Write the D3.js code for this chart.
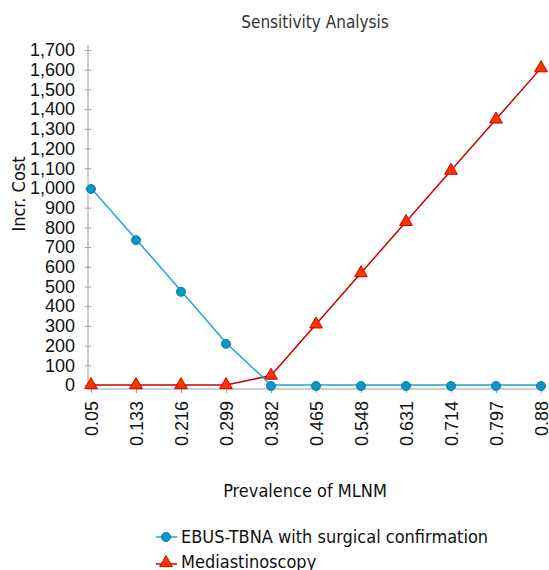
<!DOCTYPE html>
<html>
<head>
<meta charset="utf-8">
<script src="https://cdn.jsdelivr.net/npm/d3@7"></script>
<style>
  body { margin: 0; background: #fff; }
  svg { font-family: "DejaVu Sans Condensed", "DejaVu Sans", sans-serif; }
  .axis path, .axis line { stroke: #a0a0a0; }
  .axis text { fill: #111; font-size: 18px; }
</style>
</head>
<body>
<svg width="549" height="570"></svg>
<script>
const prevalence = ["0.05", "0.133", "0.216", "0.299", "0.382", "0.465", "0.548", "0.631", "0.714", "0.797", "0.88"];
const ebusCost = [1000, 740, 478, 214, 0, 0, 0, 0, 0, 0, 0];
const mediaCost = [0, 0, 0, 0, 48, 308, 568, 828, 1088, 1348, 1608];
const yTicks = d3.range(0, 1701, 100);

const svg = d3.select("svg");

const x = d3.scalePoint().domain(prevalence).range([91, 541]);
const y = d3.scaleLinear().domain([0, 1700]).range([385, 50]);

// title
svg.append("text")
    .attr("x", 315).attr("y", 28)
    .attr("text-anchor", "middle")
    .style("font-size", "17px").style("fill", "#333")
    .text("Sensitivity Analysis");

// y axis
const yAxis = svg.append("g")
    .attr("class", "axis")
    .attr("transform", "translate(88,0)")
    .call(d3.axisLeft(y).tickValues(yTicks).tickSizeOuter(0).tickSizeInner(3).tickPadding(10).tickFormat(d3.format(",")));
yAxis.select(".domain").attr("d", "M0,45V389");
yAxis.selectAll(".tick line").attr("x1", 3).attr("x2", -3);

// x axis
const xAxis = svg.append("g")
    .attr("class", "axis")
    .attr("transform", "translate(0,389)")
    .call(d3.axisBottom(x).tickSizeOuter(0).tickSizeInner(4));
xAxis.select(".domain").attr("d", "M88,0H541");
xAxis.selectAll(".tick text")
    .attr("transform", "rotate(-90)")
    .attr("x", -12).attr("y", 0).attr("dy", "0.35em")
    .style("text-anchor", "end");

// axis titles
svg.append("text")
    .attr("transform", "translate(25,194) rotate(-90)")
    .attr("text-anchor", "middle")
    .style("font-size", "18px").style("fill", "#111")
    .text("Incr. Cost");
svg.append("text")
    .attr("x", 305).attr("y", 497)
    .attr("text-anchor", "middle")
    .style("font-size", "18px").style("fill", "#111")
    .text("Prevalence of MLNM");

const line = d3.line().x((d, i) => x(prevalence[i])).y(d => y(d));
const tri = d3.symbol().type(d3.symbolTriangle).size(70);

// mediastinoscopy
svg.append("path").datum(mediaCost)
    .attr("d", line).attr("fill", "none")
    .attr("stroke", "#cc0000").attr("stroke-width", 1.5);
svg.selectAll(".tri").data(mediaCost).enter().append("path")
    .attr("class", "tri")
    .attr("d", tri)
    .attr("transform", (d, i) => "translate(" + x(prevalence[i]) + "," + y(d) + ")")
    .attr("fill", "#ff3300").attr("stroke", "#cc0000").attr("stroke-width", 1);

// EBUS
svg.append("path").datum(ebusCost)
    .attr("d", line).attr("fill", "none")
    .attr("stroke", "#1ea6cf").attr("stroke-width", 1.5);
svg.selectAll(".dot").data(ebusCost).enter().append("circle")
    .attr("class", "dot")
    .attr("cx", (d, i) => x(prevalence[i]))
    .attr("cy", d => y(d) + 1)
    .attr("r", 4.5)
    .attr("fill", "#0b96c6").attr("stroke", "#0a7fa8").attr("stroke-width", 1);

// legend
const legend = svg.append("g");
legend.append("line").attr("x1", 156).attr("x2", 177).attr("y1", 537).attr("y2", 537)
    .attr("stroke", "#1ea6cf").attr("stroke-width", 1.5);
legend.append("circle").attr("cx", 166).attr("cy", 537).attr("r", 4.5)
    .attr("fill", "#0b96c6").attr("stroke", "#0a7fa8");
legend.append("text").attr("x", 181).attr("y", 543)
    .style("font-size", "18px").style("fill", "#111")
    .text("EBUS-TBNA with surgical confirmation");
legend.append("line").attr("x1", 156).attr("x2", 177).attr("y1", 564).attr("y2", 564)
    .attr("stroke", "#cc0000").attr("stroke-width", 1.5);
legend.append("path").attr("d", tri)
    .attr("transform", "translate(166,563)")
    .attr("fill", "#ff3300").attr("stroke", "#cc0000");
legend.append("text").attr("x", 181).attr("y", 568)
    .style("font-size", "18px").style("fill", "#111")
    .text("Mediastinoscopy");
</script>
</body>
</html>
